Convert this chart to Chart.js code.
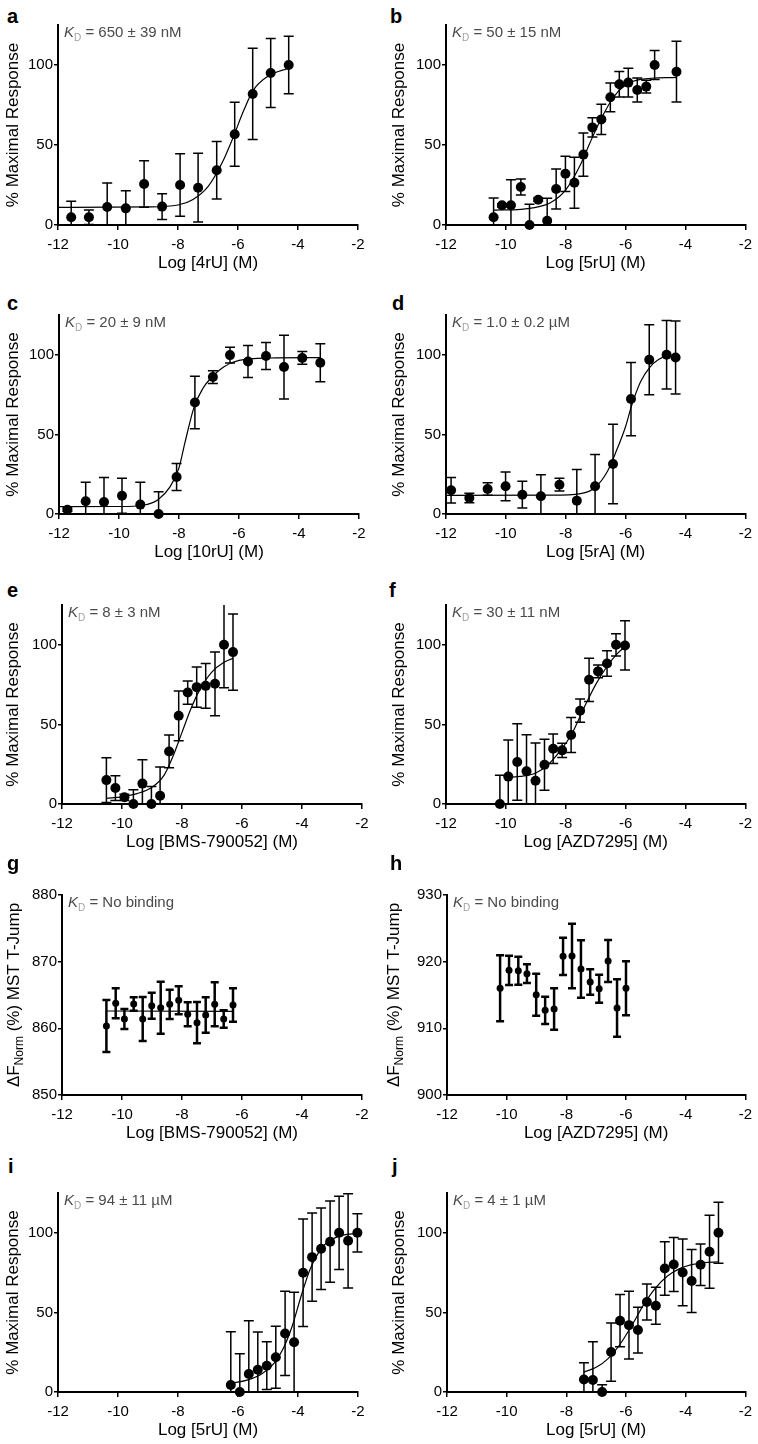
<!DOCTYPE html>
<html lang="en">
<head>
<meta charset="UTF-8">
<title>Binding curves</title>
<script src="https://cdn.jsdelivr.net/npm/chart.js"></script>
<style>
  body { margin: 0; background: #fff; font-family: "Liberation Sans", Arial, sans-serif; }
  #fig { position: relative; width: 758px; height: 1444px; }
  #fig canvas { position: absolute; }
  .lbl { position: absolute; font-weight: bold; font-size: 20px; line-height: 20px; color: #000; }
</style>
</head>
<body>
<div id="fig"></div>
<script>
// ---- data (x = log concentration, y = response, err = error bar) ----
const aX = [-11.56, -10.97, -10.36, -9.74, -9.13, -8.53, -7.93, -7.33, -6.71, -6.11, -5.51, -4.91, -4.31];
const aY = [4.8, 4.8, 11.3, 10.4, 25.6, 11.5, 25, 23.3, 34.2, 56.7, 81.9, 95, 100];
const aErr = [10, 4.5, 15, 11, 14.5, 8, 19.5, 21.5, 18, 20, 28.5, 21.5, 18];
const aFitX = [-12, -9, -8, -7.5, -7, -6.5, -6.2, -5.8, -5.5, -5, -4.31];
const aFitY = [11, 11.3, 12.5, 16, 24, 40, 53, 72, 84, 93, 98];

const bX = [-10.41, -10.13, -9.83, -9.5, -9.21, -8.92, -8.62, -8.32, -8.01, -7.71, -7.41, -7.11, -6.81, -6.51, -6.21, -5.91, -5.61, -5.31, -5.03, -4.3];
const bY = [4.8, 12.3, 12.3, 23.7, 0, 15.8, 2.7, 22.5, 32, 26.4, 44, 61, 66, 79.8, 88, 89, 84.4, 86.5, 100, 95.8];
const bErr = [12, 1, 16, 5, 13, 1, 14, 12.5, 11, 16, 13.5, 6, 9.5, 9, 8, 9, 7.5, 4, 9, 19];
const bFitX = [-10.41, -9.5, -9, -8.5, -8, -7.5, -7.2, -6.8, -6.4, -6, -5.5, -4.3];
const bFitY = [9.3, 9.8, 11, 14, 22, 38, 51, 67, 80, 87.5, 91, 92.3];

const cX = [-11.72, -11.11, -10.5, -9.9, -9.29, -8.68, -8.08, -7.47, -6.87, -6.3, -5.7, -5.1, -4.5, -3.89, -3.29];
const cY = [2.7, 8, 7.5, 11.5, 5.9, 0, 23.2, 70, 86, 99.8, 95.8, 99.2, 92.3, 98, 95];
const cErr = [1, 12, 15.5, 11, 14, 14, 8.5, 16.5, 4, 5, 10, 8.5, 20, 4, 12];
const cFitX = [-12, -10, -9.2, -8.7, -8.3, -8, -7.8, -7.5, -7.2, -7, -6.5, -6, -5, -3.29];
const cFitY = [4.6, 4.7, 5.5, 9, 17, 29, 45, 67, 79, 84, 92.5, 96.5, 98, 98.2];

const dX = [-11.83, -11.22, -10.61, -10.01, -9.45, -8.83, -8.21, -7.63, -7.02, -6.42, -5.82, -5.21, -4.63, -4.33];
const dY = [14.9, 10, 15.7, 17.4, 12.1, 11.1, 18.4, 8.4, 17.4, 31.4, 72.2, 96.9, 100, 98.3];
const dErr = [8, 3, 4, 9, 8.4, 13.6, 4, 19.5, 20, 25, 23, 22, 21.5, 23];
const dFitX = [-12, -8.5, -7.5, -7, -6.6, -6.3, -6, -5.8, -5.5, -5.2, -4.9, -4.6, -4.33];
const dFitY = [11.7, 11.8, 12.8, 17, 27, 40, 55, 68, 83, 92, 97, 99.3, 99.6];

const eX = [-10.52, -10.22, -9.92, -9.62, -9.32, -9.02, -8.73, -8.43, -8.11, -7.81, -7.51, -7.21, -6.9, -6.6, -6.3];
const eY = [15, 10, 4.2, 0, 12.8, 0, 5.2, 33, 55.4, 70, 73.4, 74.2, 75.5, 100, 95.4];
const eErr = [14, 7.8, 2, 9, 15, 11, 18, 10.3, 15.6, 7.3, 12.6, 14, 20, 27, 24];
const eFitX = [-10.52, -10, -9.5, -9, -8.6, -8.3, -8, -7.7, -7.4, -7, -6.6, -6.3];
const eFitY = [3.5, 4.5, 6.5, 10.5, 18, 30, 45, 60, 72, 83, 89, 91.5];

const fX = [-10.2, -9.92, -9.62, -9.31, -9.01, -8.71, -8.42, -8.12, -7.82, -7.52, -7.22, -6.92, -6.62, -6.32, -6.02];
const fY = [0, 17.2, 26.4, 20.5, 14.6, 24.7, 34.7, 33.7, 43.3, 58.6, 78, 83.3, 88.3, 100, 99.6];
const fErr = [18, 23, 24, 23, 23.7, 16, 9.2, 4.5, 11, 7.3, 13.6, 4, 8, 7, 15.5];
const fFitX = [-9.92, -9.5, -9, -8.6, -8.2, -7.8, -7.4, -7, -6.6, -6.3, -6.02];
const fFitY = [16.8, 17.3, 19.5, 24.5, 33, 44, 60, 75, 87, 94, 99];

const gX = [-10.52, -10.21, -9.92, -9.61, -9.31, -9.01, -8.71, -8.41, -8.11, -7.81, -7.5, -7.21, -6.91, -6.61, -6.3];
const gY = [860.35, 863.75, 861.4, 863.65, 861.4, 863.4, 863.1, 863.6, 864.2, 862.1, 860.85, 862.0, 863.6, 861.4, 863.5];
const gErr = [3.9, 2.25, 1.5, 1.0, 3.3, 1.95, 3.9, 2.2, 2.1, 1.8, 3.1, 2.65, 3.3, 1.3, 2.5];
const gFitX = [-10.52, -6.3];
const gFitY = [862.6, 862.55];

const hX = [-10.22, -9.92, -9.61, -9.32, -9.01, -8.71, -8.41, -8.11, -7.81, -7.51, -7.2, -6.9, -6.6, -6.3, -6.0];
const hY = [916, 918.7, 918.65, 918.2, 915.05, 912.7, 912.9, 920.8, 920.85, 918.9, 916.95, 915.95, 920.1, 913.05, 916];
const hErr = [4.95, 2.2, 2.1, 1.4, 3.15, 2.05, 3.1, 2.8, 4.85, 4.3, 1.9, 2.1, 3.15, 4.3, 4.05];

const iX = [-6.24, -5.94, -5.64, -5.34, -5.04, -4.74, -4.43, -4.13, -3.83, -3.53, -3.23, -2.93, -2.63, -2.33, -2.02];
const iY = [4.4, 0, 11.3, 14, 16.5, 21.8, 36.8, 31.2, 74.9, 84.7, 90, 94.4, 100, 95, 100];
const iErr = [33.5, 24, 33.5, 23.7, 15, 19.5, 26.5, 31.4, 33.7, 27.7, 25.6, 25.5, 23, 29.6, 12];
const iFitX = [-6.24, -5.7, -5.2, -4.8, -4.5, -4.2, -3.9, -3.6, -3.3, -3, -2.5, -2.02];
const iFitY = [5.5, 7.5, 11.5, 18, 27, 41, 60, 77, 88, 94.5, 98.5, 99.6];

const jX = [-7.41, -7.11, -6.8, -6.5, -6.2, -5.9, -5.6, -5.3, -5.0, -4.7, -4.4, -4.1, -3.8, -3.5, -3.2, -2.9];
const jY = [7.9, 7.5, 0, 25.1, 44.8, 42, 38.9, 56.5, 54.2, 77.6, 80.1, 75.1, 69.7, 79.9, 88.1, 100];
const jErr = [10.5, 24, 4.6, 18.3, 16.4, 21.3, 14.4, 11.3, 11.6, 16.8, 17, 21, 19.8, 13, 23, 19.2];
const jFitX = [-7.41, -7, -6.6, -6.2, -5.8, -5.4, -5, -4.6, -4.2, -3.8, -3.4, -2.9];
const jFitY = [12.5, 15.5, 21, 30, 42, 55, 65.5, 73, 77.5, 80, 81.2, 81.8];

const kdLabels = ['650 ± 39 nM', '50 ± 15 nM', '20 ± 9 nM', '1.0 ± 0.2 µM', '8 ± 3 nM',
                  '30 ± 11 nM', 'No binding', 'No binding', '94 ± 11 µM', '4 ± 1 µM'];
const ligands = ['4rU', '5rU', '10rU', '5rA', 'BMS-790052', 'AZD7295', 'BMS-790052', 'AZD7295', '5rU', '5rU'];
const xTicks = [-12, -10, -8, -6, -4, -2];
const pctTicks = [0, 50, 100];
const gTicks = [850, 860, 870, 880];
const hTicks = [900, 910, 920, 930];

// ---- page geometry: canvas box [left, top, w, h], plot box [left, right, top, bottom] ----
const geom = {
  a: { box: [0, 0, 379, 285],     plot: [58, 358, 25, 225],    yTitle: 13,  letter: [7, 23] },
  b: { box: [379, 0, 379, 285],   plot: [446, 746, 25, 225],   yTitle: 399, letter: [390, 23] },
  c: { box: [0, 285, 379, 290],   plot: [59, 359, 315, 514],   yTitle: 13,  letter: [7, 310] },
  d: { box: [379, 285, 379, 290], plot: [446, 746, 315, 514],  yTitle: 399, letter: [392, 310] },
  e: { box: [0, 575, 379, 285],   plot: [62, 362, 605, 804],   yTitle: 13,  letter: [7, 597] },
  f: { box: [379, 575, 379, 285], plot: [446, 746, 605, 804],  yTitle: 399, letter: [389, 597] },
  g: { box: [0, 860, 379, 290],   plot: [62, 362, 895, 1095],  yTitle: 13,  letter: [7, 870] },
  h: { box: [379, 860, 379, 290], plot: [447, 747, 895, 1095], yTitle: 393, letter: [390, 870] },
  i: { box: [0, 1150, 379, 294],  plot: [58, 358, 1193, 1392], yTitle: 13,  letter: [8, 1173] },
  j: { box: [379, 1150, 379, 294], plot: [447, 747, 1193, 1392], yTitle: 399, letter: [392, 1173] }
};

const FONT = '"Liberation Sans", Arial, sans-serif';
Chart.defaults.font.family = FONT;
Chart.defaults.color = '#000';

// error bars, clipped to the plot area like the original
const errorBars = {
  id: 'errorBars',
  beforeDatasetsDraw(chart, args, o) {
    const { ctx, chartArea: ca, scales: { x, y } } = chart;
    ctx.save();
    ctx.beginPath();
    ctx.rect(ca.left - 20, ca.top, ca.width + 40, ca.height);
    ctx.clip();
    ctx.strokeStyle = '#000';
    ctx.lineWidth = o.width;
    chart.data.datasets[0].data.forEach(p => {
      const px = x.getPixelForValue(p.x);
      const t = y.getPixelForValue(p.y + p.e), b = y.getPixelForValue(p.y - p.e);
      ctx.beginPath();
      ctx.moveTo(px, t); ctx.lineTo(px, b);
      ctx.moveTo(px - o.cap, t); ctx.lineTo(px + o.cap, t);
      ctx.moveTo(px - o.cap, b); ctx.lineTo(px + o.cap, b);
      ctx.stroke();
    });
    ctx.restore();
  }
};

// K_D note and the subscripted MST axis title
const annot = {
  id: 'annot',
  afterDraw(chart, args, o) {
    const { ctx, chartArea: ca } = chart;
    ctx.save();
    ctx.textBaseline = 'middle';
    let x = ca.left + 6;
    const y = ca.top + 8;
    ctx.fillStyle = '#4a4a4a';
    ctx.font = 'italic 15px ' + FONT;
    ctx.fillText('K', x, y);
    x += ctx.measureText('K').width;
    ctx.font = '10px ' + FONT;
    ctx.fillStyle = '#a0a0a0';
    ctx.fillText('D', x, y + 5);
    x += ctx.measureText('D').width;
    ctx.font = '15px ' + FONT;
    ctx.fillStyle = '#4a4a4a';
    ctx.fillText(' = ' + o.kd, x, y);

    if (o.mstTitleX != null) {
      ctx.translate(o.mstTitleX, (ca.top + ca.bottom) / 2);
      ctx.rotate(-Math.PI / 2);
      ctx.fillStyle = '#000';
      ctx.textBaseline = 'alphabetic';
      const big = '17px ' + FONT, small = '12px ' + FONT;
      ctx.font = big;
      const w1 = ctx.measureText('ΔF').width, w3 = ctx.measureText(' (%) MST T-Jump').width;
      ctx.font = small;
      const w2 = ctx.measureText('Norm').width;
      let tx = -(w1 + w2 + w3) / 2;
      ctx.font = big; ctx.fillText('ΔF', tx, 6); tx += w1;
      ctx.font = small; ctx.fillText('Norm', tx, 10); tx += w2;
      ctx.font = big; ctx.fillText(' (%) MST T-Jump', tx, 6);
    }
    ctx.restore();
  }
};

const fig = document.getElementById('fig');

function build(id, n, xs, ys, errs, fitX, fitY, yMin, yMax, yTicks, mst) {
  const G = geom[id];
  const [bl, bt, bw, bh] = G.box;
  const [pl, pr, pt, pb] = G.plot;

  const lab = document.createElement('div');
  lab.className = 'lbl';
  lab.textContent = id;
  lab.style.left = G.letter[0] + 'px';
  lab.style.top = (G.letter[1] - 17) + 'px';
  fig.appendChild(lab);

  const cv = document.createElement('canvas');
  cv.width = bw; cv.height = bh;
  cv.style.left = bl + 'px'; cv.style.top = bt + 'px';
  fig.appendChild(cv);

  const pts = xs.map((v, i) => ({ x: v, y: ys[i], e: errs[i] }));
  const fit = fitX ? fitX.map((v, i) => ({ x: v, y: fitY[i] })) : [];

  new Chart(cv, {
    type: 'scatter',
    data: {
      datasets: [
        { data: pts, backgroundColor: '#000', borderWidth: 0, pointRadius: mst ? 3.5 : 5, clip: false },
        { data: fit, showLine: true, borderColor: '#000', borderWidth: 1.2, pointRadius: 0,
          cubicInterpolationMode: 'monotone' }
      ]
    },
    options: {
      responsive: false,
      animation: false,
      events: [],
      layout: { padding: { left: 0, top: pt - bt, right: bl + bw - pr, bottom: 0 } },
      plugins: {
        legend: { display: false },
        tooltip: { enabled: false },
        errorBars: { width: mst ? 2.5 : 1.5, cap: mst ? 4 : 5 },
        annot: { kd: kdLabels[n], mstTitleX: mst ? G.yTitle - bl : null }
      },
      scales: {
        x: {
          type: 'linear', min: -12, max: -2,
          afterBuildTicks: s => { s.ticks = xTicks.map(v => ({ value: v })); },
          afterFit: s => { s.height = bt + bh - pb; },
          ticks: { padding: 6, font: { size: 15 }, color: '#000' },
          grid: { drawOnChartArea: false, tickLength: 5, color: '#000', lineWidth: 1.5 },
          border: { color: '#000', width: 2 },
          title: {
            display: true, text: 'Log [' + ligands[n] + '] (M)', font: { size: 17 }, color: '#000',
            padding: { top: 0, bottom: (bt + bh) - (pb + 38) - 10.2 }
          }
        },
        y: {
          type: 'linear', min: yMin, max: yMax,
          afterBuildTicks: s => { s.ticks = yTicks.map(v => ({ value: v })); },
          afterFit: s => { s.width = pl - bl; },
          ticks: { padding: 1, font: { size: 15 }, color: '#000' },
          grid: { drawOnChartArea: false, tickLength: 4, color: '#000', lineWidth: 1.5 },
          border: { color: '#000', width: 2 },
          title: {
            display: !mst, text: '% Maximal Response', font: { size: 17 }, color: '#000',
            padding: { top: G.yTitle - bl - 10.2, bottom: 0 }
          }
        }
      }
    },
    plugins: [errorBars, annot]
  });
}

build('a', 0, aX, aY, aErr, aFitX, aFitY, 0, 125, pctTicks, false);
build('b', 1, bX, bY, bErr, bFitX, bFitY, 0, 125, pctTicks, false);
build('c', 2, cX, cY, cErr, cFitX, cFitY, 0, 125, pctTicks, false);
build('d', 3, dX, dY, dErr, dFitX, dFitY, 0, 125, pctTicks, false);
build('e', 4, eX, eY, eErr, eFitX, eFitY, 0, 125, pctTicks, false);
build('f', 5, fX, fY, fErr, fFitX, fFitY, 0, 125, pctTicks, false);
build('g', 6, gX, gY, gErr, gFitX, gFitY, 850, 880, gTicks, true);
build('h', 7, hX, hY, hErr, null, null, 900, 930, hTicks, true);
build('i', 8, iX, iY, iErr, iFitX, iFitY, 0, 125, pctTicks, false);
build('j', 9, jX, jY, jErr, jFitX, jFitY, 0, 125, pctTicks, false);
</script>
</body>
</html>
